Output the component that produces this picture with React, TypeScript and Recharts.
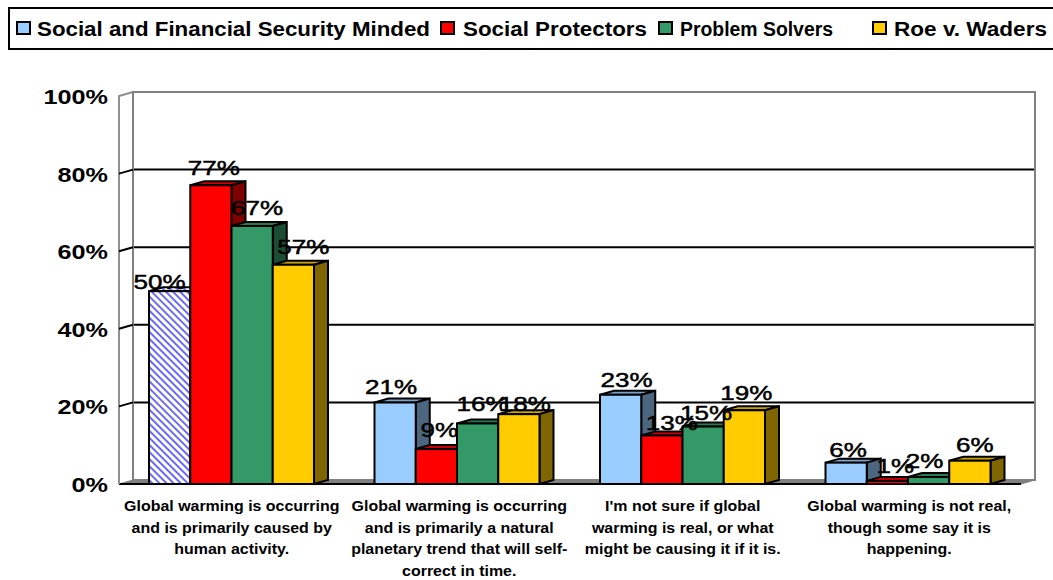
import React from "react";
import { BarChart, Bar, XAxis, YAxis, CartesianGrid, Legend, LabelList, ReferenceArea } from "recharts";

const categories = [
  "Global warming is occurring\nand is primarily caused by\nhuman activity.",
  "Global warming is occurring\nand is primarily a natural\nplanetary trend that will self-\ncorrect in time.",
  "I'm not sure if global\nwarming is real, or what\nmight be causing it if it is.",
  "Global warming is not real,\nthough some say it is\nhappening.",
];
const securityMinded = [0.497, 0.21, 0.23, 0.055];
const socialProtectors = [0.77, 0.09, 0.125, 0.008];
const problemSolvers = [0.665, 0.156, 0.148, 0.018];
const roeVWaders = [0.565, 0.18, 0.19, 0.06];
const labelTexts = [
  ["50%", "21%", "23%", "6%"],
  ["77%", "9%", "13%", "1%"],
  ["67%", "16%", "15%", "2%"],
  ["57%", "18%", "19%", "6%"],
];
const yTicks = [0, 0.2, 0.4, 0.6, 0.8, 1];
const gridTicks = [0.2, 0.4, 0.6, 0.8];

const seriesInfo = [
  { key: "a", name: "Social and Financial Security Minded", values: securityMinded, fill: "#99CCFF", top: "#7AA3CC", side: "#4D6680" },
  { key: "b", name: "Social Protectors", values: socialProtectors, fill: "#FF0000", top: "#CC0000", side: "#800000" },
  { key: "c", name: "Problem Solvers", values: problemSolvers, fill: "#339966", top: "#297A52", side: "#1A4D33" },
  { key: "d", name: "Roe v. Waders", values: roeVWaders, fill: "#FFCC00", top: "#CCA300", side: "#806600" },
];
const chartData = categories.map((category, i) => {
  const row: any = { category };
  seriesInfo.forEach((s) => (row[s.key] = s.values[i]));
  return row;
});

const DX = 14;
const DY = 4;
// hand nudges that reproduce where the original placed its data labels
const labelNudge = [
  [[-10, 8], [-4, 1], [6, 2], [2, 4]],
  [[3, 0], [3, -2], [10, 4], [8, 2]],
  [[5, -1], [5, -2], [3, 3], [-4, 1]],
  [[10, -1], [6, 7], [2, 0], [5, 1]],
];
const legendLayout: any = {
  "Social and Financial Security Minded": { swatch: 17, text: 37, width: 393 },
  "Social Protectors": { swatch: 441, text: 463, width: 184 },
  "Problem Solvers": { swatch: 659, text: 680, width: 153 },
  "Roe v. Waders": { swatch: 873, text: 894, width: 153 },
};
const xTickShift = [0, 2, 0, 1];

const FONT = "'Liberation Sans', Arial, sans-serif";

function makeBarShape(si: number) {
  const s = seriesInfo[si];
  return (props: any) => {
    const { x, y, width, height, index } = props;
    const hatched = si === 0 && index === 0;
    const front = hatched ? "url(#hatch)" : s.fill;
    const topFill = hatched ? "url(#hatch)" : s.top;
    return (
      <g stroke="#000" strokeWidth={2} strokeLinejoin="miter">
        {hatched && (
          <defs>
            <pattern id="hatch" width={5} height={5} patternUnits="userSpaceOnUse" patternTransform="rotate(-45)">
              <rect width={5} height={5} fill="#fff" stroke="none" />
              <rect width={2} height={5} fill="#6A6AF5" stroke="none" />
            </pattern>
          </defs>
        )}
        <polygon points={`${x},${y} ${x + DX},${y - DY} ${x + width + DX},${y - DY} ${x + width},${y}`} fill={topFill} />
        <polygon points={`${x + width},${y} ${x + width + DX},${y - DY} ${x + width + DX},${y + height - DY} ${x + width},${y + height}`} fill={s.side} />
        <rect x={x} y={y} width={width} height={height} fill={front} />
      </g>
    );
  };
}

function makeLabel(si: number) {
  return (props: any) => {
    const { x, y, width, index } = props;
    const [nx, ny] = labelNudge[si][index];
    const cx = x + width / 2 + nx;
    const by = y - 10 + ny;
    return (
      <text transform={`translate(${cx},${by}) scale(1.24,1)`} textAnchor="middle" fontFamily={FONT} fontWeight={400} fontSize={21} fill="#000" stroke="#000" strokeWidth={0.5}>
        {labelTexts[si][index]}
      </text>
    );
  };
}

function YTick(props: any) {
  const { x, y, payload } = props;
  const label = `${Math.round(payload.value * 100)}%`;
  return (
    <g>
      {payload.value > 0 && payload.value < 1 && <line x1={x} y1={y} x2={x + DX} y2={y - DY} stroke="#000" strokeWidth={2} />}
      <text transform={`translate(${x - 11},${y + 8}) scale(1.2,1)`} textAnchor="end" fontFamily={FONT} fontWeight={700} fontSize={21} fill="#000">
        {label}
      </text>
    </g>
  );
}

function XTick(props: any) {
  const { x, payload, index } = props;
  return (
    <text transform={`translate(${x + xTickShift[index]},0) scale(1.14,1)`} textAnchor="middle" fontFamily={FONT} fontWeight={700} fontSize={14} fill="#000">
      {String(payload.value).split("\n").map((line, i) => (
        <tspan key={i} x={0} y={511 + i * 21.7}>{line}</tspan>
      ))}
    </text>
  );
}

function Walls(props: any) {
  const { x, y, width, height } = props;
  const b = y + height;
  return (
    <g>
      <polygon points={`${x},${b} ${x + DX},${b - DY} ${x + width + DX},${b - DY} ${x + width},${b}`} fill="#808080" stroke="#808080" strokeWidth={1} />
      <line x1={x} y1={b} x2={x + width} y2={b} stroke="#000" strokeWidth={2} />
      <polyline points={`${x},${b} ${x},${y} ${x + DX},${y - DY}`} fill="none" stroke="#909090" strokeWidth={2} />
      <rect x={x + DX} y={y - DY} width={width} height={height} fill="none" stroke="#808080" strokeWidth={2} />
    </g>
  );
}

function LegendBox(props: any) {
  const items = props.payload || [];
  return (
    <svg width={1053} height={52} style={{ display: "block" }}>
      <rect x={9} y={8} width={1100} height={41} fill="#fff" stroke="#000" strokeWidth={2} />
      {items.map((it: any) => {
        const l = legendLayout[it.value];
        return (
          <g key={it.value}>
            <rect x={l.swatch} y={22} width={13} height={12} fill={it.color} stroke="#000" strokeWidth={2} />
            <text x={l.text} y={36} textLength={l.width} lengthAdjust="spacingAndGlyphs" fontFamily={FONT} fontWeight={700} fontSize={20} fill="#000">
              {it.value}
            </text>
          </g>
        );
      })}
    </svg>
  );
}

export default function App() {
  return (
    <div style={{ position: "absolute", left: 0, top: 0, width: 1053, height: 580, overflow: "hidden" }}>
      <BarChart width={1053} height={580} data={chartData} margin={{ top: 96, right: 32, bottom: 0, left: 0 }} barSize={41.25} barGap={0}>
        <ReferenceArea y1={0} y2={1} shape={Walls} ifOverflow="visible" />
        <CartesianGrid
          vertical={false}
          stroke="#000"
          strokeWidth={2}
          x={119 + DX}
          width={902}
          horizontalCoordinatesGenerator={({ offset }: any) => gridTicks.map((t) => offset.top + offset.height * (1 - t) - DY)}
        />
        <XAxis dataKey="category" interval={0} tick={XTick} tickLine={false} axisLine={false} height={96} />
        <YAxis domain={[0, 1]} ticks={yTicks} width={119} tick={YTick} tickLine={false} axisLine={false} tickSize={0} tickMargin={0} />
        <Legend layout="vertical" verticalAlign="middle" align="center" width={1053} wrapperStyle={{ top: 0, left: 0, margin: 0 }} content={LegendBox} />
        {seriesInfo.map((s, si) => (
          <Bar key={s.key} dataKey={s.key} name={s.name} fill={s.fill} isAnimationActive={false} shape={makeBarShape(si)}>
            <LabelList dataKey={s.key} content={makeLabel(si)} />
          </Bar>
        ))}
      </BarChart>
    </div>
  );
}
